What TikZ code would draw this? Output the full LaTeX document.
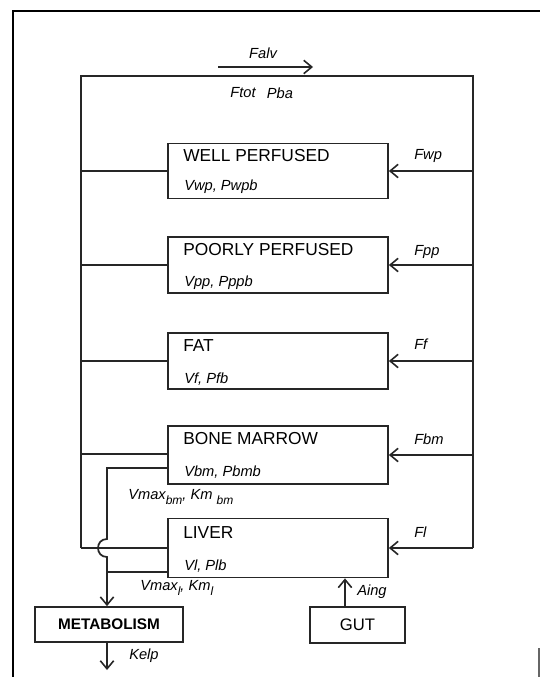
\documentclass[tikz,border=0pt]{standalone}
\usepackage{fontspec}
\setmainfont{Liberation Sans}
\usetikzlibrary{arrows.meta}
\newcommand{\sbs}[1]{\raisebox{-3.5pt}{\fontsize{9}{10}\selectfont #1}}
\begin{document}
\begin{tikzpicture}[x=0.75pt,y=-0.75pt,
  line/.style={draw=black!85,line width=1.3pt},
  arr/.style={line,-{Straight Barb[length=6pt,width=10pt,line width=1.2pt]}},
  comp/.style={draw=black!85,line width=1.3pt,rectangle,inner sep=0pt,minimum width=165pt},
  title/.style={anchor=west,inner sep=0pt,font=\fontsize{13}{15}\selectfont},
  lbl/.style={anchor=west,inner sep=0pt,font=\itshape\fontsize{11}{13}\selectfont},
  clbl/.style={inner sep=0pt,font=\itshape\fontsize{11}{13}\selectfont},
  small/.style={draw=black!85,line width=1.3pt,rectangle,inner sep=0pt}]
\useasboundingbox (0,0) rectangle (540,677);
% page border
\draw[line width=1.6pt] (13,677) -- (13,11) -- (540,11);
\draw[line width=1pt,black!60] (539,648) -- (539,677);

% compartments
\node[comp,minimum height=41.25pt] (wp) at (278,171) {};
\node[comp,minimum height=42pt] (pp) at (278,265) {};
\node[comp,minimum height=42pt] (fat) at (278,361) {};
\node[comp,minimum height=43.5pt] (bm) at (278,455) {};
\node[comp,minimum height=44.25pt] (liv) at (278,548) {};
\node[small,minimum width=111pt,minimum height=26.25pt] (met) at (109,624.5) {};
\node[small,minimum width=71.25pt,minimum height=27pt] (gut) at (357.5,625) {};

% titles
\node[title] (wpT) at (183,156) {WELL PERFUSED};
\node[title] (ppT) at (183,250) {POORLY PERFUSED};
\node[title] (fatT) at (183,346) {FAT};
\node[title] (bmT) at (183,439) {BONE MARROW};
\node[title] (livT) at (183,533) {LIVER};
\node[font=\bfseries\fontsize{11.5}{13}\selectfont,inner sep=0pt] (metT) at (met) {METABOLISM};
\node[font=\fontsize{12.5}{14}\selectfont,inner sep=0pt] (gutT) at (gut) {GUT};

% subtitles
\node[lbl] (wpS) at (184,187) {Vwp, Pwpb};
\node[lbl] (ppS) at (184,283) {Vpp, Pppb};
\node[lbl] (fatS) at (184,379) {Vf, Pfb};
\node[lbl] (bmS) at (184,472) {Vbm, Pbmb};
\node[lbl] (livS) at (184,566) {Vl, Plb};

% circulation loop
\coordinate (L) at (81,548);
\coordinate (TL) at (81,76);
\coordinate (TR) at (473,76);
\coordinate (R) at (473,548);
\draw[line] (L) -- (TL) -- (TR) -- (R);

% Falv
\coordinate (fa1) at (218,67);
\coordinate (fa2) at (313,67);
\draw[arr] (fa1) -- (fa2);
\node[clbl] (falv) at (263,53) {Falv};
\node[clbl] (ftot) at (243,93) {Ftot};
\node[clbl] (pba) at (280,93) {Pba};

% venous returns (left)
\draw[line] (wp.west -| L) -- (wp.west);
\draw[line] (pp.west -| L) -- (pp.west);
\draw[line] (fat.west -| L) -- (fat.west);
\draw[line] ([yshift=0.75pt]bm.west -| L) -- ([yshift=0.75pt]bm.west);
\draw[line] (L) -- (liv.west);

% arterial inflows (right)
\draw[arr] (wp.east -| R) -- (wp.east);
\draw[arr] (pp.east -| R) -- (pp.east);
\draw[arr] (fat.east -| R) -- (fat.east);
\draw[arr] (bm.east -| R) -- (bm.east);
\draw[arr] (R) -- (liv.east);

\node[lbl] (fwp) at (414,156) {Fwp};
\node[lbl] (fpp) at (414,252) {Fpp};
\node[lbl] (ff) at (414,344) {Ff};
\node[lbl] (fbm) at (414,439) {Fbm};
\node[lbl] (fl) at (414,532) {Fl};

% metabolism pathways
\coordinate (bmo) at (168,468);
\coordinate (m1) at (107,468);
\coordinate (j1) at (107,539);
\coordinate (j2) at (107,557);
\coordinate (lo) at (168,572);
\coordinate (m2) at (107,572);
\draw[line] (bmo) -- (m1) -- (j1) .. controls (95,539) and (95,557) .. (j2) -- (m2);
\draw[line] (lo) -- (m2);
\draw[arr] (m2) -- (met.north -| m2);
\coordinate (k) at (107,670);
\draw[arr] (met.south -| m2) -- (k);
\node[lbl] (kelp) at (129,656) {Kelp};

\node[lbl] (vbm) at (128,497) {Vmax\sbs{bm}, Km \sbs{bm}};
\node[lbl] (vl) at (140,588) {Vmax\sbs{l}, Km\sbs{l}};

% gut
\draw[arr] (gut.north -| 345,0) -- (liv.south -| 345,0);
\node[lbl] (aing) at (357,592) {Aing};
\end{tikzpicture}
\end{document}
